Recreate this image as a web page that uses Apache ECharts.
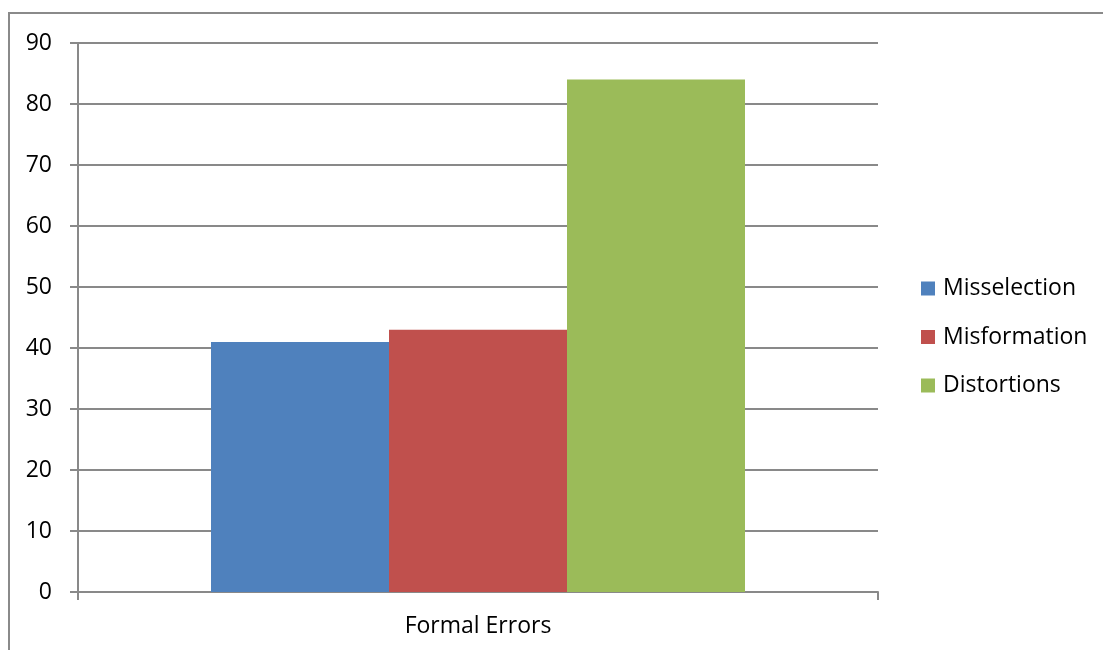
<!DOCTYPE html>
<html>
<head>
<meta charset="utf-8">
<script src="https://cdn.jsdelivr.net/npm/echarts@6/dist/echarts.min.js"></script>
<style>
  html, body { margin: 0; padding: 0; background: #fff; }
  #chart { width: 1103px; height: 650px; }
</style>
</head>
<body>
<div id="chart"></div>
<script>
// Error counts per type for the single category
const categories = ['Formal Errors'];
const seriesNames = ['Misselection', 'Misformation', 'Distortions'];
const misselection = [41];
const misformation = [43];
const distortions = [84];
const seriesColors = ['#4F81BD', '#C0504D', '#9BBB59'];

const FONT = '"Open Sans", "Noto Sans", sans-serif';
const GRID_GRAY = '#898989';

const chart = echarts.init(document.getElementById('chart'), null, { renderer: 'canvas' });

const values = [misselection, misformation, distortions];

chart.setOption({
  animation: false,
  backgroundColor: '#ffffff',
  graphic: [{
    type: 'rect',
    shape: { x: 9, y: 13, width: 1300, height: 900 },
    style: { fill: 'none', stroke: '#8a8a8a', lineWidth: 2 },
    silent: true
  }],
  grid: { left: 78, right: 225, top: 43, bottom: 58, containLabel: false },
  legend: {
    orient: 'vertical',
    left: 921,
    top: 277,
    padding: 0,
    itemWidth: 14,
    itemHeight: 14,
    itemGap: 25.5,
    icon: 'rect',
    data: seriesNames,
    textStyle: { fontFamily: FONT, fontSize: 23, color: '#000', padding: [0, 0, 0, 3], lineHeight: 23 }
  },
  xAxis: {
    type: 'category',
    data: categories,
    axisLine: { lineStyle: { color: GRID_GRAY, width: 2 } },
    axisTick: { show: true, length: 8, lineStyle: { color: GRID_GRAY, width: 2 } },
    axisLabel: { fontFamily: FONT, fontSize: 23, color: '#000', margin: 23 }
  },
  yAxis: {
    type: 'value',
    min: 0,
    max: 90,
    interval: 10,
    axisLine: { show: true, lineStyle: { color: GRID_GRAY, width: 2 } },
    axisTick: { show: true, length: 8, lineStyle: { color: GRID_GRAY, width: 2 } },
    splitLine: { show: true, lineStyle: { color: GRID_GRAY, width: 2 } },
    axisLabel: { fontFamily: FONT, fontSize: 23, color: '#000', margin: 26 }
  },
  series: seriesNames.map((name, i) => ({
    name: name,
    type: 'bar',
    data: values[i],
    barGap: '0%',
    barCategoryGap: '33.25%',
    itemStyle: { color: seriesColors[i] }
  }))
});
</script>
</body>
</html>
